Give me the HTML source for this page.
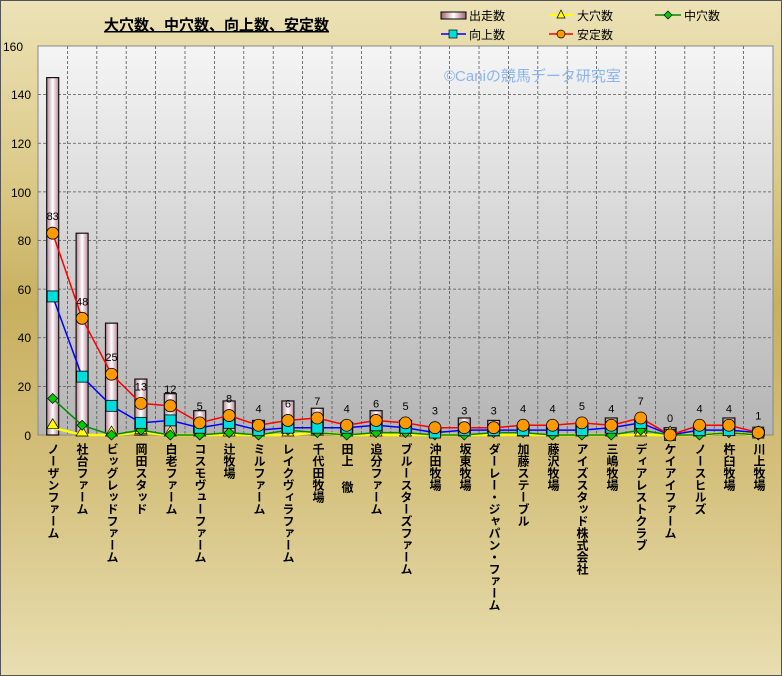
<!DOCTYPE html>
<html><head><meta charset="utf-8">
<style>
body{margin:0;width:782px;height:676px;overflow:hidden;font-family:"Liberation Sans","Noto Sans CJK JP",sans-serif}
#wrap{position:relative;width:780px;height:674px;border:1px solid #555;background:linear-gradient(180deg,#ece2b6 0%,#dccb8a 25%,#c8b060 45%,#d4c07c 70%,#e8deb0 100%)}
.lab{position:absolute;top:442px;writing-mode:vertical-rl;text-orientation:upright;font-size:12px;line-height:14px;color:#000;transform:translateX(-7px);white-space:nowrap;font-weight:bold}
</style></head><body><div id="wrap">
<svg id="s" width="780" height="674" style="position:absolute;left:0;top:0" font-family="Liberation Sans, Noto Sans CJK JP, sans-serif">
<defs>
<linearGradient id="pg" x1="0" y1="0" x2="0" y2="1"><stop offset="0" stop-color="#f5f5f5"/><stop offset="1" stop-color="#b4b4b4"/></linearGradient>
<linearGradient id="bg" x1="0" y1="0" x2="1" y2="0"><stop offset="0" stop-color="#b88898"/><stop offset="0.5" stop-color="#ffffff"/><stop offset="1" stop-color="#b88898"/></linearGradient>
<linearGradient id="lg" x1="0" y1="0" x2="1" y2="0"><stop offset="0" stop-color="#a06070"/><stop offset="0.5" stop-color="#ffffff"/><stop offset="1" stop-color="#a06070"/></linearGradient>
</defs>
<rect x="37" y="45" width="735" height="389" fill="url(#pg)" stroke="#888"/>
<g id="g"></g>
<text x="103" y="29" font-size="15" font-weight="bold" text-decoration="underline">大穴数、中穴数、向上数、安定数</text>
<text x="443" y="80" font-size="15" fill="#8ab4f0">©Caniの競馬データ研究室</text>
<g font-size="12">
<rect x="440" y="11" width="25" height="7" fill="url(#lg)" stroke="#000"/><text x="468" y="19">出走数</text>
<line x1="548" y1="14" x2="572" y2="14" stroke="#ff0" stroke-width="2"/><polygon points="560,9 564,17 556,17" fill="#ff0" stroke="#000" stroke-width="0.7"/><text x="576" y="19">大穴数</text>
<line x1="654" y1="14" x2="680" y2="14" stroke="#080" stroke-width="1.5"/><polygon points="667,10 671,14 667,18 663,14" fill="#0c0" stroke="#000" stroke-width="0.7"/><text x="683" y="19">中穴数</text>
<line x1="440" y1="33" x2="465" y2="33" stroke="#00f" stroke-width="1.5"/><rect x="448" y="29" width="8" height="8" fill="#0dd" stroke="#000" stroke-width="0.7"/><text x="468" y="38">向上数</text>
<line x1="548" y1="33" x2="572" y2="33" stroke="#f00" stroke-width="1.5"/><circle cx="560" cy="33" r="4" fill="#f90" stroke="#000" stroke-width="0.7"/><text x="576" y="38">安定数</text>
</g>
<g font-size="12" text-anchor="end" id="yl"><text x="22" y="50">160</text><text x="30" y="147">120</text><text x="30" y="196">100</text><text x="30" y="244">80</text><text x="30" y="293">60</text><text x="30" y="341">40</text><text x="30" y="390">20</text><text x="30" y="439">0</text><text x="30" y="98">140</text></g>
</svg>
<div class="lab" style="left:52px">ノーザンファーム</div>
<div class="lab" style="left:81px">社台ファーム</div>
<div class="lab" style="left:111px">ビッグレッドファーム</div>
<div class="lab" style="left:140px">岡田スタッド</div>
<div class="lab" style="left:170px">白老ファーム</div>
<div class="lab" style="left:199px">コスモヴューファーム</div>
<div class="lab" style="left:228px">辻牧場</div>
<div class="lab" style="left:258px">ミルファーム</div>
<div class="lab" style="left:287px">レイクヴィラファーム</div>
<div class="lab" style="left:317px">千代田牧場</div>
<div class="lab" style="left:346px">田上 徹</div>
<div class="lab" style="left:375px">追分ファーム</div>
<div class="lab" style="left:405px">ブルースターズファーム</div>
<div class="lab" style="left:434px">沖田牧場</div>
<div class="lab" style="left:464px">坂東牧場</div>
<div class="lab" style="left:493px">ダーレー・ジャパン・ファーム</div>
<div class="lab" style="left:522px">加藤ステーブル</div>
<div class="lab" style="left:552px">藤沢牧場</div>
<div class="lab" style="left:581px">アイズスタッド株式会社</div>
<div class="lab" style="left:611px">三嶋牧場</div>
<div class="lab" style="left:640px">ディアレストクラブ</div>
<div class="lab" style="left:669px">ケイアイファーム</div>
<div class="lab" style="left:699px">ノースヒルズ</div>
<div class="lab" style="left:728px">杵臼牧場</div>
<div class="lab" style="left:758px">川上牧場</div>
</div>
<script>
var R=[147,83,46,23,17,10,14,6,14,11,5,10,6,3,7,6,4,4,5,7,6,3,4,7,2];
var B=[3,0,0,1,0,0,0,0,0,1,0,0,0,0,0,0,0,0,0,0,0,0,0,1,0];
var M=[15,4,0,2,0,0,1,0,2,1,0,1,1,0,0,1,1,0,0,0,2,0,0,1,0];
var U=[57,24,12,5,6,3,5,2,3,3,3,4,3,1,2,2,2,2,2,3,5,0,2,2,1];
var S=[83,48,25,13,12,5,8,4,6,7,4,6,5,3,3,3,4,4,5,4,7,0,4,4,1];
var x0=37,w=735/25,y0=434,k=389/160,h='';
function X(i){return x0+w*(i+0.5)}function Y(v){return y0-v*k}
for(var v=20;v<160;v+=20)h+='<line x1="37" x2="772" y1="'+Y(v)+'" y2="'+Y(v)+'" stroke="#555" stroke-dasharray="3,2" stroke-width="0.8"/>';
for(var i=1;i<25;i++)h+='<line y1="45" y2="434" x1="'+(x0+w*i)+'" x2="'+(x0+w*i)+'" stroke="#555" stroke-dasharray="3,2" stroke-width="0.8"/>';
for(i=0;i<25;i++)h+='<rect x="'+(X(i)-6)+'" y="'+Y(R[i])+'" width="12" height="'+(R[i]*k)+'" fill="url(#bg)" stroke="#111" stroke-width="1.2"/>';
function line(a,c,sw){var p=a.map(function(v,i){return X(i)+','+Y(v)}).join(' ');return '<polyline points="'+p+'" fill="none" stroke="'+c+'" stroke-width="'+sw+'"/>'}
h+=line(B,'#ff0',2.5)+line(M,'#080',1.5)+line(U,'#00f',1.5)+line(S,'#f00',1.5);
for(i=0;i<25;i++){var x=X(i);
var y=Y(B[i]);h+='<polygon points="'+x+','+(y-9)+' '+(x+6)+','+(y+1)+' '+(x-6)+','+(y+1)+'" fill="#ff0" stroke="#000" stroke-width="0.7"/>';
y=Y(M[i]);h+='<polygon points="'+x+','+(y-5)+' '+(x+5)+','+y+' '+x+','+(y+5)+' '+(x-5)+','+y+'" fill="#0c0" stroke="#000" stroke-width="0.7"/>';
y=Y(U[i]);h+='<rect x="'+(x-5.5)+'" y="'+(y-5.5)+'" width="11" height="11" fill="#0dd" stroke="#000" stroke-width="0.8"/>';
y=Y(S[i]);h+='<circle cx="'+x+'" cy="'+y+'" r="6" fill="#f90" stroke="#000" stroke-width="0.8"/>';
h+='<text x="'+x+'" y="'+(y-13)+'" font-size="11" text-anchor="middle">'+S[i]+'</text>';}
document.getElementById('g').innerHTML=h;
</script>
</body></html>
